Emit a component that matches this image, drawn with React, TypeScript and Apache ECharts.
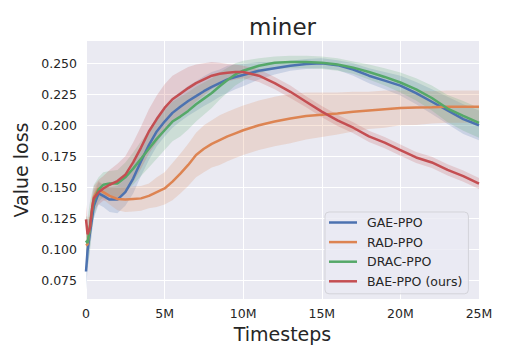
import React, { useEffect, useRef } from "react";
import * as echarts from "echarts";

const timestepsM = [0, 0.1, 0.25, 0.4, 0.5, 0.8, 1.1, 1.5, 2, 2.5, 3, 3.5, 4, 4.5, 5, 5.5, 6, 6.5, 7, 7.5, 8, 8.5, 9, 9.5, 10, 11, 12, 13, 14, 15, 16, 17, 18, 19, 20, 21, 22, 23, 24, 25];

const seriesNames = ["GAE-PPO", "RAD-PPO", "DRAC-PPO", "BAE-PPO (ours)"];
const seriesColors = ["#4C72B0", "#DD8452", "#55A868", "#C44E52"];

const gaeMean = [0.082, 0.099, 0.113, 0.126, 0.135, 0.145, 0.143, 0.140, 0.140, 0.146, 0.157, 0.171, 0.184, 0.195, 0.203, 0.210, 0.215, 0.2196, 0.2235, 0.2275, 0.231, 0.234, 0.237, 0.239, 0.2405, 0.244, 0.246, 0.248, 0.2495, 0.250, 0.2485, 0.245, 0.240, 0.236, 0.232, 0.226, 0.219, 0.212, 0.205, 0.200];
const gaeStd = [0.015, 0.015, 0.012, 0.010, 0.010, 0.009, 0.009, 0.010, 0.011, 0.011, 0.012, 0.012, 0.012, 0.012, 0.012, 0.012, 0.012, 0.012, 0.012, 0.012, 0.012, 0.011, 0.011, 0.010, 0.009, 0.007, 0.005, 0.004, 0.004, 0.004, 0.004, 0.005, 0.006, 0.007, 0.008, 0.009, 0.010, 0.011, 0.012, 0.012];

const radMean = [0.103, 0.104, 0.118, 0.134, 0.142, 0.149, 0.146, 0.143, 0.1405, 0.140, 0.1405, 0.141, 0.143, 0.146, 0.149, 0.1545, 0.161, 0.168, 0.176, 0.181, 0.185, 0.188, 0.191, 0.1935, 0.196, 0.200, 0.203, 0.2055, 0.2075, 0.2085, 0.2095, 0.211, 0.212, 0.213, 0.214, 0.2143, 0.2145, 0.215, 0.215, 0.215];
const radStd = [0.008, 0.008, 0.008, 0.007, 0.006, 0.006, 0.006, 0.007, 0.009, 0.010, 0.010, 0.010, 0.010, 0.012, 0.013, 0.015, 0.016, 0.017, 0.018, 0.019, 0.019, 0.020, 0.020, 0.020, 0.020, 0.020, 0.020, 0.020, 0.019, 0.018, 0.017, 0.016, 0.015, 0.015, 0.014, 0.014, 0.013, 0.013, 0.013, 0.013];

const dracMean = [0.107, 0.105, 0.118, 0.132, 0.139, 0.148, 0.152, 0.153, 0.153, 0.158, 0.165, 0.173, 0.181, 0.189, 0.196, 0.203, 0.207, 0.2116, 0.217, 0.2215, 0.226, 0.2315, 0.2365, 0.241, 0.244, 0.248, 0.2505, 0.251, 0.251, 0.2505, 0.249, 0.2465, 0.243, 0.239, 0.2345, 0.229, 0.222, 0.2135, 0.2075, 0.202];
const dracStd = [0.020, 0.020, 0.020, 0.015, 0.013, 0.010, 0.010, 0.010, 0.011, 0.012, 0.013, 0.014, 0.015, 0.016, 0.016, 0.016, 0.016, 0.015, 0.014, 0.013, 0.012, 0.011, 0.010, 0.009, 0.008, 0.006, 0.005, 0.005, 0.005, 0.005, 0.005, 0.005, 0.006, 0.007, 0.008, 0.009, 0.010, 0.011, 0.012, 0.012];

const baeMean = [0.124, 0.112, 0.117, 0.134, 0.141, 0.146, 0.149, 0.152, 0.155, 0.160, 0.170, 0.182, 0.195, 0.205, 0.214, 0.221, 0.2255, 0.230, 0.234, 0.237, 0.240, 0.2415, 0.2424, 0.243, 0.243, 0.240, 0.234, 0.227, 0.219, 0.211, 0.204, 0.198, 0.191, 0.186, 0.180, 0.174, 0.170, 0.164, 0.159, 0.153];
const baeStd = [0.012, 0.012, 0.011, 0.010, 0.010, 0.010, 0.010, 0.012, 0.014, 0.015, 0.016, 0.017, 0.018, 0.019, 0.019, 0.019, 0.018, 0.017, 0.015, 0.013, 0.011, 0.009, 0.007, 0.006, 0.005, 0.005, 0.005, 0.005, 0.0045, 0.0045, 0.0045, 0.0045, 0.0045, 0.0045, 0.0045, 0.0045, 0.0045, 0.0045, 0.0045, 0.0045];

const yTickValues = [0.075, 0.1, 0.125, 0.15, 0.175, 0.2, 0.225, 0.25];

const means = [gaeMean, radMean, dracMean, baeMean];
const stds = [gaeStd, radStd, dracStd, baeStd];

const FONT = "DejaVu Sans";
const TEXT = "#262626";

export default function App() {
  const ref = useRef<HTMLDivElement>(null);
  useEffect(() => {
    if (!ref.current) return;
    const chart = echarts.init(ref.current, null, { renderer: "svg" });

    const bandSeries = means.map((m, k) => ({
      type: "custom",
      name: seriesNames[k] + " band",
      silent: true,
      z: 1,
      data: [[timestepsM[0], m[0]]],
      encode: { x: 0, y: 1 },
      renderItem: (params: any, api: any) => {
        const pts: number[][] = [];
        for (let i = 0; i < timestepsM.length; i++) {
          pts.push(api.coord([timestepsM[i], m[i] + stds[k][i]]));
        }
        for (let i = timestepsM.length - 1; i >= 0; i--) {
          pts.push(api.coord([timestepsM[i], m[i] - stds[k][i]]));
        }
        return {
          type: "polygon",
          shape: { points: pts },
          style: { fill: seriesColors[k], opacity: 0.2 },
        };
      },
    }));

    const lineSeries = means.map((m, k) => ({
      type: "line",
      name: seriesNames[k],
      data: timestepsM.map((t, i) => [t, m[i]]),
      symbol: "none",
      showSymbol: false,
      z: 3,
      lineStyle: { color: seriesColors[k], width: 2.5 },
      itemStyle: { color: seriesColors[k] },
    }));

    chart.setOption({
      animation: false,
      backgroundColor: "#ffffff",
      textStyle: { fontFamily: FONT },
      grid: {
        left: 86,
        right: 29,
        top: 41,
        bottom: 61,
        show: true,
        backgroundColor: "#EAEAF2",
        borderWidth: 0,
      },
      graphic: [
        {
          type: "text",
          x: 282.5,
          y: 27,
          style: {
            text: "miner",
            fontFamily: FONT,
            fontSize: 23,
            fill: TEXT,
            textAlign: "center",
            textVerticalAlign: "middle",
          },
        },
      ],
      legend: {
        data: seriesNames,
        orient: "vertical",
        left: 325,
        top: 212,
        icon: "rect",
        itemWidth: 28,
        itemHeight: 2.5,
        itemGap: 6.6,
        padding: [4, 6, 6, 4],
        backgroundColor: "rgba(234,234,242,0.8)",
        borderColor: "#d3d3d9",
        borderWidth: 1,
        borderRadius: 4,
        textStyle: {
          fontFamily: FONT,
          fontSize: 12.5,
          color: TEXT,
          padding: [0, 0, 0, 5],
        },
      },
      xAxis: {
        type: "value",
        min: 0,
        max: 25,
        interval: 5,
        name: "Timesteps",
        nameLocation: "middle",
        nameGap: 25,
        nameTextStyle: { fontFamily: FONT, fontSize: 19, color: TEXT },
        axisLine: { show: false },
        axisTick: { show: false },
        axisLabel: {
          margin: 8,
          fontFamily: FONT,
          fontSize: 12.5,
          color: TEXT,
          formatter: (v: number) => (v === 0 ? "0" : v + "M"),
        },
        splitLine: { show: true, lineStyle: { color: "#ffffff", width: 1 } },
      },
      yAxis: {
        type: "value",
        min: 0.0598,
        max: 0.268,
        name: "Value loss",
        nameLocation: "middle",
        nameGap: 48,
        nameTextStyle: { fontFamily: FONT, fontSize: 19, color: TEXT },
        axisLine: { show: false },
        axisTick: { show: false, customValues: yTickValues },
        axisLabel: {
          margin: 9,
          fontFamily: FONT,
          fontSize: 12.5,
          color: TEXT,
          customValues: yTickValues,
          formatter: (v: number) => v.toFixed(3),
        },
        splitLine: { show: true, lineStyle: { color: "#ffffff", width: 1 } },
      },
      series: [...bandSeries, ...lineSeries],
    });

    return () => chart.dispose();
  }, []);

  return <div ref={ref} style={{ width: 508, height: 360, position: "absolute", left: 0, top: 0 }} />;
}
